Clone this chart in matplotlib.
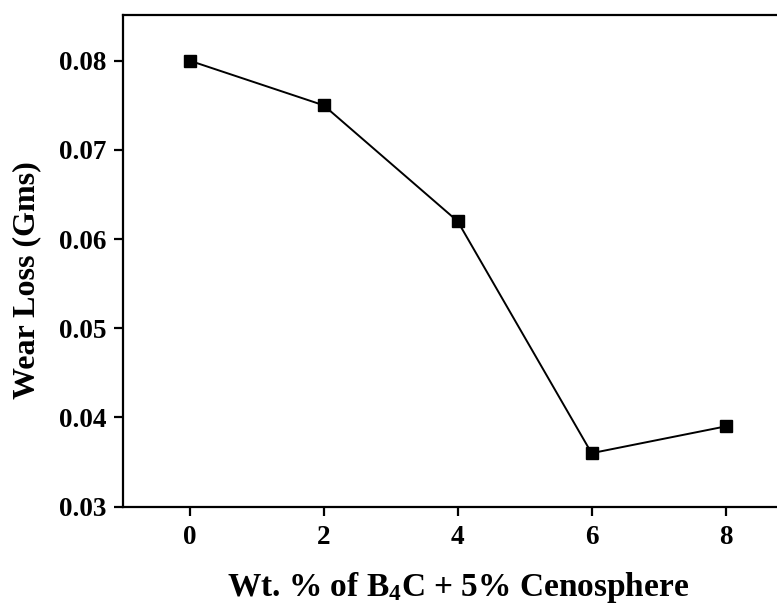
import matplotlib
matplotlib.use("Agg")
import matplotlib.pyplot as plt

# wear loss vs reinforcement content
wt_pct = [0, 2, 4, 6, 8]
wear_loss = [0.080, 0.075, 0.062, 0.036, 0.039]

plt.rcParams['font.family'] = 'Liberation Serif'
plt.rcParams['font.weight'] = 'bold'
plt.rcParams['mathtext.fontset'] = 'custom'
plt.rcParams['mathtext.rm'] = 'Liberation Serif:bold'
plt.rcParams['mathtext.it'] = 'Liberation Serif:bold'
plt.rcParams['mathtext.bf'] = 'Liberation Serif:bold'

fig = plt.figure(figsize=(7.77, 6.09), dpi=100)
ax = fig.add_axes([0.158, 0.168, 0.862, 0.807])

ax.plot(wt_pct, wear_loss, color='black', lw=1.4, marker='s', ms=8.5)

ax.set_xlim(-1, 9)
ax.set_ylim(0.03, 0.0851)
ax.set_xticks([0, 2, 4, 6, 8])
ax.set_yticks([0.03, 0.04, 0.05, 0.06, 0.07, 0.08])
ax.set_yticklabels(['0.03', '0.04', '0.05', '0.06', '0.07', '0.08'])

for s in ax.spines.values():
    s.set_linewidth(1.6)
ax.tick_params(direction='out', length=6.5, width=1.6, labelsize=19.5)
ax.tick_params(axis='x', pad=7)
ax.tick_params(axis='y', pad=5)

ax.set_xlabel('Wt. % of B$_4$C + 5% Cenosphere', fontsize=24, fontweight='bold', labelpad=14)
ax.set_ylabel('Wear Loss (Gms)', fontsize=23, fontweight='bold')
ax.yaxis.set_label_coords(-0.122, 0.46)

fig.savefig('out.png', dpi=100)
